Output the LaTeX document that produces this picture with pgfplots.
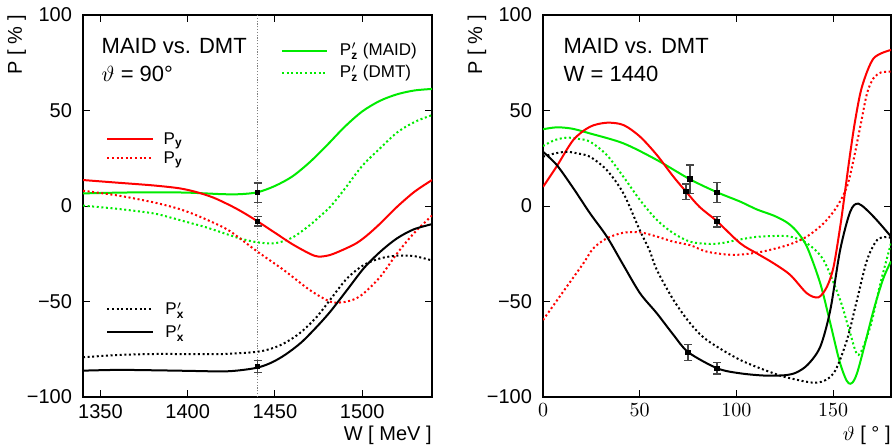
\documentclass[border=0pt]{standalone}
\usepackage{fontspec}
\setmainfont{Liberation Sans}
\usepackage{pgfplots}
\pgfplotsset{compat=1.18}

\definecolor{lred}{RGB}{255,0,0}
\definecolor{lgreen}{RGB}{0,235,0}
\definecolor{ebar}{RGB}{70,70,70}

\tikzset{
  full/.style={line width=1pt, smooth},
  dots/.style={line width=1pt, smooth, dash pattern=on 1pt off 1.3pt},
}
\pgfplotsset{
  polstyle/.style={
    scale only axis, height=191pt,
    ymin=-100, ymax=100,
    ytick={-100,-50,0,50,100},
    yticklabels={−100,−50,0,50,100},
    tick align=inside, major tick length=3.5pt,
    tick style={black, line width=0.5pt},
    axis line style={line width=0.65pt},
    ticklabel style={font=\fontsize{10}{10}\selectfont},
    yticklabel style={xshift=-2pt},
    label style={font=\fontsize{10}{10}\selectfont},
    ylabel={P [ \% ]},
    ylabel style={at={(axis description cs:-0.19,1)}, anchor=east, inner sep=0pt},
    xlabel style={at={(axis description cs:1,-0.075)}, anchor=north east, inner sep=0pt},
  },
  datapts/.style={only marks, mark=square*, mark size=1.1pt, black,
    error bars/.cd, y dir=both, y explicit,
    error bar style={ebar, line width=0.6pt},
    error mark options={rotate=90, mark size=2pt, ebar, line width=0.6pt}},
}
\newcommand{\ann}{\fontsize{11}{11}\selectfont}
\newcommand{\lgd}{\fontsize{8.5}{8.5}\selectfont}
% P with a small bold index below and a prime above
\newcommand{\Pp}[1]{P\smash{$_{\mathbf{#1}}'$}}
\newcommand{\Pn}[1]{P\smash{$_{\mathbf{#1}}$}}

\begin{document}
\begin{tikzpicture}
\useasboundingbox (0,0) rectangle (447pt,223.5pt);

% ---- left: theta = 90 deg, versus W
\begin{axis}[polstyle, at={(41.5pt,25pt)}, anchor=south west, width=174.5pt,
  xmin=1340, xmax=1540,
  xtick={1350,1400,1450,1500}, xticklabels={1350,1400,1450,1500},
  xlabel={W [ MeV ]}]
  \addplot[gray, line width=0.4pt, dash pattern=on 0.6pt off 0.8pt] coordinates {(1440,-100) (1440,100)};
  % Pz' MAID
  \addplot[lgreen, full] coordinates {(1340,6.6) (1360,7) (1380,7.2) (1400,7) (1420,6.2) (1430,6.2) (1440,7.2) (1450,10.5) (1460,15.5) (1470,23) (1480,32) (1490,41.5) (1500,49.5) (1510,55) (1520,58.5) (1530,60.5) (1540,61.3)};
  % Pz' DMT
  \addplot[lgreen, dots] coordinates {(1340,0.2) (1360,-1.5) (1380,-3.8) (1390,-6) (1400,-8.5) (1410,-11) (1420,-14) (1430,-17) (1440,-19) (1450,-19.5) (1460,-16.5) (1470,-10) (1475,-6) (1481.7,-0.4) (1490,9) (1500,21) (1510,30) (1520,38.5) (1530,44) (1540,47.6)};
  % Py MAID
  \addplot[lred, full] coordinates {(1340,13.6) (1360,12.2) (1380,10.8) (1395,9.3) (1405,7.3) (1415,4.3) (1425,0) (1432,-3.5) (1440,-8) (1450,-14) (1460,-20) (1470,-25) (1475,-26.5) (1481.7,-25.6) (1490,-22.5) (1497,-19.3) (1503,-15.2) (1510.4,-9.1) (1520,-0.4) (1530,7.5) (1540,13.6)};
  % Py DMT
  \addplot[lred, dots] coordinates {(1340,8) (1360,5.5) (1380,2) (1395,-1.5) (1407,-5.6) (1420,-11) (1426,-14.3) (1440,-23.9) (1455,-33.5) (1470,-44) (1481.7,-50.1) (1488.6,-50.4) (1495,-49) (1500.9,-45.7) (1510.4,-37) (1520,-24.8) (1529.6,-14.3) (1540,-5)};
  % Px' MAID
  \addplot[black, full] coordinates {(1340,-86.2) (1360,-85.8) (1380,-86) (1400,-86.3) (1420,-86.6) (1430,-86) (1440,-84.6) (1448,-82) (1456,-77.8) (1465,-71.5) (1474,-63.2) (1481.7,-55.3) (1491.3,-44) (1500.9,-32.6) (1510.4,-23.9) (1520,-16.9) (1529.6,-12.2) (1540,-9.5)};
  % Px' DMT
  \addplot[black, dots] coordinates {(1340,-79.2) (1360,-78) (1380,-77.5) (1400,-77.5) (1420,-77.5) (1440,-76.3) (1450,-74) (1457,-71) (1465,-66) (1474,-58) (1481.7,-49) (1491.3,-37.9) (1500.9,-30.9) (1510.4,-27.4) (1520,-26) (1529.6,-26.2) (1540,-28.5)};
  % data
  \addplot[datapts] coordinates {(1440,7) +- (0,5) (1440,-8) +- (0,2.5) (1440,-84) +- (0,3)};
  % texts
  \node[anchor=base west, inner sep=0pt, font=\ann] at (axis cs:1350.5,80) {MAID vs. DMT};
  \node[anchor=base west, inner sep=0pt, font=\ann] at (axis cs:1350.5,65) {$\vartheta$ = 90°};
  % legend samples
  \draw[lgreen, line width=1pt] (axis cs:1454,81.2) -- (axis cs:1480,81.2);
  \draw[lgreen, line width=1pt, dash pattern=on 1pt off 1.3pt] (axis cs:1454,69.4) -- (axis cs:1480,69.4);
  \node[anchor=west, inner sep=0pt, font=\lgd] at (axis cs:1487,81.2) {\Pp{z} (MAID)};
  \node[anchor=west, inner sep=0pt, font=\lgd] at (axis cs:1487,69.4) {\Pp{z} (DMT)};
  \draw[lred, line width=1pt] (axis cs:1354,35.1) -- (axis cs:1380,35.1);
  \draw[lred, line width=1pt, dash pattern=on 1pt off 1.3pt] (axis cs:1354,25.1) -- (axis cs:1380,25.1);
  \node[anchor=west, inner sep=0pt, font=\lgd] at (axis cs:1386,35.1) {\Pn{y}};
  \node[anchor=west, inner sep=0pt, font=\lgd] at (axis cs:1386,25.1) {\Pn{y}};
  \draw[black, line width=1pt, dash pattern=on 1pt off 1.3pt] (axis cs:1354,-54) -- (axis cs:1380,-54);
  \draw[black, line width=1pt] (axis cs:1354,-65.8) -- (axis cs:1380,-65.8);
  \node[anchor=west, inner sep=0pt, font=\lgd] at (axis cs:1387,-54) {\Pp{x}};
  \node[anchor=west, inner sep=0pt, font=\lgd] at (axis cs:1387,-65.8) {\Pp{x}};
\end{axis}

% ---- right: W = 1440, versus theta
\begin{axis}[polstyle, at={(271.5pt,25pt)}, anchor=south west, width=174pt,
  xmin=0, xmax=180, xtick={0,50,100,150},
  xlabel={$\vartheta$ [ ° ]}]
  % Pz' MAID
  \addplot[lgreen, full] coordinates {(0,40.2) (7.1,41.2) (15,40.5) (24.3,38) (41.6,32.8) (58.9,24.1) (76,14) (90,7.2) (102,2.3) (110.6,-1.8) (119.3,-5) (126,-8.5) (131,-13) (136.5,-21.3) (143.4,-40.5) (148.6,-61.4) (153.7,-82.4) (158.1,-92.8) (162.4,-87.6) (171,-54.5) (176,-38) (180,-29)};
  % Pz' DMT
  \addplot[lgreen, dots] coordinates {(0,31.4) (6,34.5) (12.3,35.8) (18,35.2) (24.3,33.7) (33,26.7) (41.6,15.3) (50.2,3.1) (58.9,-7.3) (67.5,-14.3) (76.1,-18.7) (84.8,-19.8) (92,-19.5) (102,-17.5) (110,-16.2) (119.3,-15.7) (127.9,-16) (136.5,-19.5) (145.1,-28.3) (153.7,-49.2) (158.9,-66.7) (163.2,-78) (169.3,-63.2) (174.5,-40.5) (180,-19.5)};
  % Py MAID
  \addplot[lred, full] coordinates {(0,10) (7,20.6) (15.7,34.6) (24.3,41.5) (33,43.6) (41.6,42.4) (50.2,36.3) (58.9,26.7) (67.5,15.3) (74,7.5) (81,-0.5) (90,-8) (102,-19.5) (110.6,-24.8) (119.3,-30) (127.9,-36.1) (136.5,-45.7) (142.5,-47.8) (146.9,-42.2) (150.3,-31.8) (153.7,-11) (155.5,2) (156.8,12) (158.9,27.6) (161.5,45) (165,62.5) (171,77.3) (180,81.7)};
  % Py DMT
  \addplot[lred, dots] coordinates {(0,-59.7) (12.3,-42.2) (20.9,-30) (26,-22.2) (33,-16.9) (41.6,-14) (50.2,-13.8) (58.9,-16) (67.5,-18.7) (76.1,-20.5) (84.8,-23.9) (98.3,-25.6) (110.6,-24.4) (119.3,-22.5) (127.9,-20) (136.5,-16) (145.1,-9.1) (152,-0.4) (157.2,10.1) (160.6,24.1) (164.1,41.5) (167.6,59) (171,67) (175,70) (180,70.3)};
  % Px' MAID
  \addplot[black, full] coordinates {(0,28.4) (7.1,21.5) (15.7,9.3) (24.3,-3.8) (33,-16) (41.6,-31) (50.2,-45.7) (58.9,-56.2) (67.5,-67.5) (75.2,-76.6) (90.2,-85) (102,-87.6) (115,-88.8) (125,-88.6) (131,-87.2) (137,-83) (143.4,-73.7) (148.6,-54.5) (153.7,-23) (158.9,-3) (163.2,1.2) (171,-5.6) (180,-16)};
  % Px' DMT
  \addplot[black, dots] coordinates {(0,25.8) (6,27.5) (12.3,28.4) (18,27.5) (24.3,25.8) (33,18.8) (41.6,6.6) (50.2,-13) (55,-23) (58.9,-33.5) (67.5,-49.2) (76.1,-61.4) (84.8,-70.2) (102,-80.6) (119.3,-87.6) (127.9,-90.2) (141.7,-92.5) (150.3,-87.6) (157.2,-70.2) (162.4,-49.2) (167.6,-28.3) (172.8,-17.8) (177.9,-16.2) (180,-16.9)};
  % data
  \addplot[datapts] coordinates {(74,7.5) +- (0,4) (76,14.1) +- (0,7.4) (90,7.2) +- (0,5.2) (90,-8.2) +- (0,2.8) (75,-76.6) +- (0,4.2) (90,-85) +- (0,3)};
  \node[anchor=base west, inner sep=0pt, font=\ann] at (axis cs:10.5,80) {MAID vs. DMT};
  \node[anchor=base west, inner sep=0pt, font=\ann] at (axis cs:10.5,65) {W = 1440};
\end{axis}
\end{tikzpicture}
\end{document}
